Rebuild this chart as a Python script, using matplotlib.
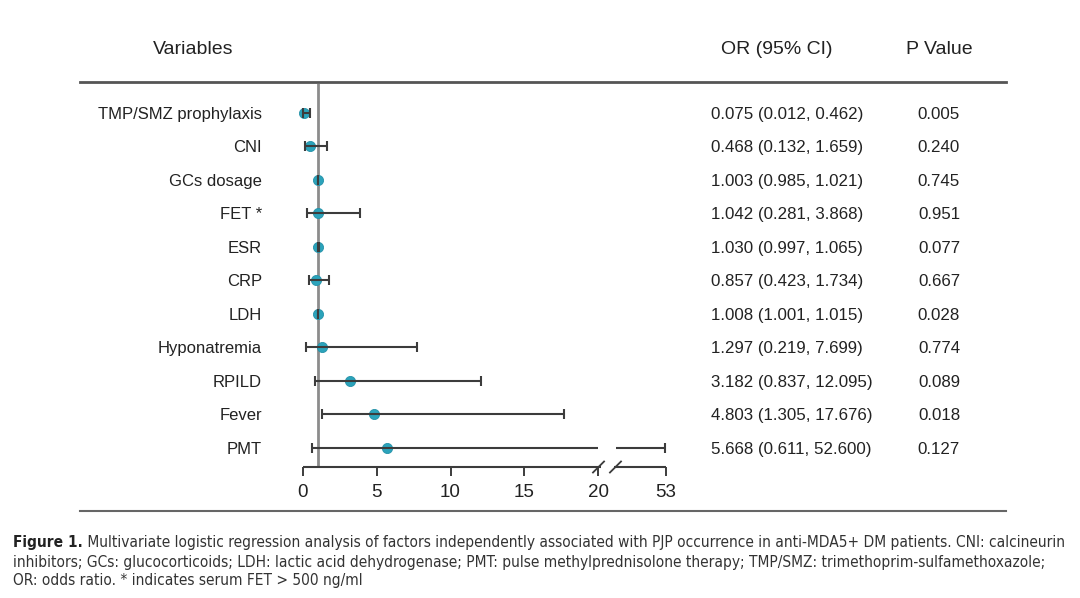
import numpy as np
import matplotlib
matplotlib.use("Agg")
import matplotlib.pyplot as plt
import matplotlib.transforms as mtransforms
from matplotlib import font_manager as fm

variables = ["TMP/SMZ prophylaxis", "CNI", "GCs dosage", "FET *", "ESR", "CRP",
             "LDH", "Hyponatremia", "RPILD", "Fever", "PMT"]
odds_ratio = [0.075, 0.468, 1.003, 1.042, 1.030, 0.857, 1.008, 1.297, 3.182, 4.803, 5.668]
ci_low = [0.012, 0.132, 0.985, 0.281, 0.997, 0.423, 1.001, 0.219, 0.837, 1.305, 0.611]
ci_high = [0.462, 1.659, 1.021, 3.868, 1.065, 1.734, 1.015, 7.699, 12.095, 17.676, 52.600]
p_values = ["0.005", "0.240", "0.745", "0.951", "0.077", "0.667", "0.028", "0.774",
            "0.089", "0.018", "0.127"]
or_text = ["0.075 (0.012, 0.462)", "0.468 (0.132, 1.659)", "1.003 (0.985, 1.021)",
           "1.042 (0.281, 3.868)", "1.030 (0.997, 1.065)", "0.857 (0.423, 1.734)",
           "1.008 (1.001, 1.015)", "1.297 (0.219, 7.699)", "3.182 (0.837, 12.095)",
           "4.803 (1.305, 17.676)", "5.668 (0.611, 52.600)"]
x_ticks = [0, 5, 10, 15, 20, 53]
x_ticklabels = ["0", "5", "10", "15", "20", "53"]

W, H = 1080, 598
plt.rcParams['font.family'] = ['Liberation Sans', 'DejaVu Sans']
fig = plt.figure(figsize=(W / 100, H / 100), dpi=100)
fig.patch.set_facecolor('white')

def fx(px):
    return px / W

def fy(py):
    return 1 - py / H

# broken axis scale: linear to 20, compressed beyond
K = (24.61 - 20) / 33.0

def fwd(x):
    x = np.asarray(x, dtype=float)
    return np.where(x <= 20, x, 20 + (x - 20) * K)

def inv(y):
    y = np.asarray(y, dtype=float)
    return np.where(y <= 20, y, 20 + (y - 20) / K)

ax_left, ax_right = 303, 666
ax_top, ax_bot = 84, 467
ax = fig.add_axes([fx(ax_left), fy(ax_bot), fx(ax_right - ax_left), (ax_bot - ax_top) / H])
ax.set_xscale('function', functions=(fwd, inv))
ax.set_xlim(0, 53)
row_px0, row_step = 112.5, 33.5
ax.set_ylim((ax_bot - row_px0) / row_step, -(row_px0 - ax_top) / row_step)
for s in ax.spines.values():
    s.set_visible(False)
ax.patch.set_alpha(0)

ys = np.arange(len(variables))
line_col = '#3c3c3c'
ax.axvline(1, color='#8c8c8c', lw=2, zorder=1)

brk_end = float(inv(20.0))
brk_resume = float(inv(21.22))
for i in range(len(variables)):
    lo, hi = ci_low[i], ci_high[i]
    if hi > 20:
        ax.hlines(ys[i], lo, brk_end, color=line_col, lw=1.5, zorder=3)
        ax.hlines(ys[i], brk_resume, hi, color=line_col, lw=1.5, zorder=3)
    else:
        ax.hlines(ys[i], lo, hi, color=line_col, lw=1.5, zorder=3)
ax.plot(odds_ratio, ys, 'o', color='#2ba3bb', markersize=7.3, mec='#2592a8', mew=0.6,
        zorder=2, clip_on=False)
ax.plot(ci_low, ys, '|', color=line_col, markersize=7.5, mew=1.5, zorder=4, clip_on=False)
ax.plot(ci_high, ys, '|', color=line_col, markersize=7.5, mew=1.5, zorder=4, clip_on=False)

# x axis line with break marks
xt = ax.get_xaxis_transform()
ax.plot([0, float(inv(20.2))], [0, 0], color=line_col, lw=1.5, transform=xt, clip_on=False,
        solid_capstyle='butt')
ax.plot([float(inv(21.08)), 53], [0, 0], color=line_col, lw=1.5, transform=xt, clip_on=False,
        solid_capstyle='butt')
hh = 5.5 / (ax_bot - ax_top)
for a, b in [(19.66, 20.41), (20.81, 21.56)]:
    ax.plot([float(inv(a)), float(inv(b))], [-hh, hh], color=line_col, lw=1.3,
            transform=xt, clip_on=False)

ax.set_xticks(x_ticks)
ax.set_xticklabels(x_ticklabels)
ax.tick_params(axis='x', direction='out', length=6.5, width=1.4, color=line_col,
               labelsize=13.5, labelcolor='#222222', pad=5.5)
ax.xaxis.set_minor_locator(matplotlib.ticker.NullLocator())
ax.set_yticks(ys)
ax.set_yticklabels(variables)
ax.tick_params(axis='y', length=0, pad=(ax_left - 262) * 0.72, labelsize=12, labelcolor='#222222')

# table text
bt = mtransforms.blended_transform_factory(fig.transFigure, ax.transData)
for i in range(len(variables)):
    ax.text(fx(711), ys[i], or_text[i], transform=bt, ha='left', va='center_baseline',
            fontsize=12.2, color='#222222')
    ax.text(fx(939), ys[i], p_values[i], transform=bt, ha='center', va='center_baseline',
            fontsize=12.2, color='#222222')

fig.text(fx(193), fy(50), "Variables", ha='center', va='center', fontsize=14, color='#222222')
fig.text(fx(777), fy(50), "OR (95% CI)", ha='center', va='center', fontsize=14, color='#222222')
fig.text(fx(939), fy(50), "P Value", ha='center', va='center', fontsize=14, color='#222222')

fig.add_artist(plt.Line2D([fx(80), fx(1006)], [fy(82), fy(82)], color='#555555', lw=2))
fig.add_artist(plt.Line2D([fx(80), fx(1006)], [fy(511), fy(511)], color='#666666', lw=1.5))

# caption
names = {f.name for f in fm.fontManager.ttflist}
if 'Liberation Sans Narrow' in names:
    cap_kw = dict(family=['Liberation Sans Narrow', 'DejaVu Sans'])
else:
    cap_kw = dict(family=['DejaVu Sans'], fontstretch='condensed')
cap_size = 10.5
bold = fig.text(fx(13), fy(543), "Figure 1.", ha='left', va='center', fontsize=cap_size,
                fontweight='bold', color='#222222', **cap_kw)
fig.canvas.draw()
r = fig.canvas.get_renderer()
bw = bold.get_window_extent(r).width
line1 = (" Multivariate logistic regression analysis of factors independently associated with "
         "PJP occurrence in anti-MDA5+ DM patients. CNI: calcineurin")
t1 = fig.text(fx(13 + bw), fy(543), line1, ha='left', va='center', fontsize=cap_size,
              color='#333333', **cap_kw)
fig.canvas.draw()
w1 = t1.get_window_extent(r).width
scale = (1070 - 13 - bw) / w1
cap_size2 = cap_size * scale
bold.set_fontsize(cap_size2)
fig.canvas.draw()
bw = bold.get_window_extent(r).width
t1.set_fontsize(cap_size2)
t1.set_x(fx(13 + bw))
fig.text(fx(13), fy(562), "inhibitors; GCs: glucocorticoids; LDH: lactic acid dehydrogenase; PMT: pulse "
         "methylprednisolone therapy; TMP/SMZ: trimethoprim-sulfamethoxazole;",
         ha='left', va='center', fontsize=cap_size2, color='#333333', **cap_kw)
fig.text(fx(13), fy(581), "OR: odds ratio. * indicates serum FET > 500 ng/ml",
         ha='left', va='center', fontsize=cap_size2, color='#333333', **cap_kw)

fig.savefig("out.png", dpi=100, facecolor='white')
